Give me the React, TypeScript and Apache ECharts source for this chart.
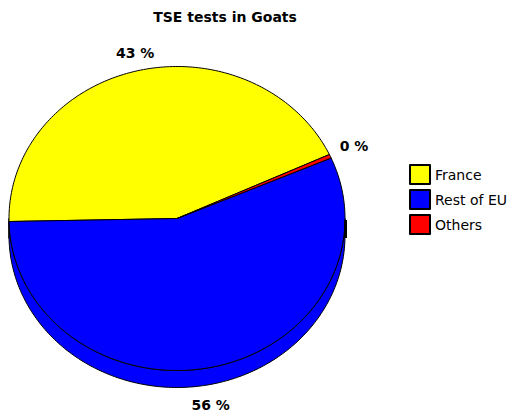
import React, { useEffect, useRef } from "react";
import * as echarts from "echarts";

const title = "TSE tests in Goats";
const categories = ["France", "Rest of EU", "Others"];
const values = [43.4, 56.2, 0.4];
const colors = ["#FFFF00", "#0000FF", "#FF0000"];

const CX = 177;
const CY = 218.5;
const RX = 168;
const RY = 152;
const DEPTH = 17;
const START = 24.9; // degrees, counter-clockwise from east
const LABEL_OFF = 18;

const total = values.reduce((a, b) => a + b, 0);

function sliceRange(i: number): [number, number] {
  let before = 0;
  for (let k = 0; k < i; k++) before += values[k];
  const a1 = START + (before / total) * 360;
  const a2 = a1 + (values[i] / total) * 360;
  return [a1, a2];
}

function pt(aDeg: number, dy = 0): number[] {
  const a = (aDeg * Math.PI) / 180;
  return [CX + RX * Math.cos(a), CY - RY * Math.sin(a) + dy];
}

function arcPoints(a1: number, a2: number, dy = 0): number[][] {
  const pts: number[][] = [];
  const n = Math.max(2, Math.ceil(Math.abs(a2 - a1)));
  for (let s = 0; s <= n; s++) pts.push(pt(a1 + ((a2 - a1) * s) / n, dy));
  return pts;
}

export default function App() {
  const ref = useRef<HTMLDivElement>(null);
  useEffect(() => {
    if (!ref.current) return;
    const chart = echarts.init(ref.current, null, { renderer: "svg" });
    const data = values.map((v) => [v]);
    chart.setOption({
      animation: false,
      backgroundColor: "#FFFFFF",
      title: {
        text: title,
        left: 220,
        top: 5,
        textAlign: "center",
        textStyle: { fontFamily: "DejaVu Sans", fontSize: 14, fontWeight: "bold", color: "#000" },
      },
      legend: {
        orient: "vertical",
        left: 404,
        top: 159,
        itemWidth: 20,
        itemHeight: 19,
        itemGap: 4,
        icon: "rect",
        data: categories,
        itemStyle: { borderColor: "#000", borderWidth: 2 },
        textStyle: { fontFamily: "DejaVu Sans", fontSize: 14, color: "#000" },
      },
      graphic: [
        {
          type: "rect",
          shape: { x: 344, y: 220, width: 3, height: 18 },
          style: { fill: "#000" },
          z: 10,
        },
      ],
      series: [
        {
          type: "pie",
          center: [-500, -500],
          radius: 1,
          silent: true,
          label: { show: false },
          data: categories.map((c, i) => ({ name: c, value: values[i], itemStyle: { color: colors[i] } })),
        },
        {
          type: "custom",
          coordinateSystem: "none",
          silent: true,
          z: 1,
          data,
          renderItem: (params: any, api: any) => {
            const i = params.dataIndex;
            const [a1, a2] = sliceRange(i);
            const children: any[] = [];
            const windows = [
              [180, 360],
              [540, 720],
            ];
            for (const [w1, w2] of windows) {
              const b1 = Math.max(a1, w1);
              const b2 = Math.min(a2, w2);
              if (b2 > b1) {
                const top = arcPoints(b1, b2, 0);
                const bot = arcPoints(b2, b1, DEPTH);
                children.push({
                  type: "polygon",
                  shape: { points: top.concat(bot) },
                  style: { fill: colors[i], stroke: "#000", lineWidth: 1 },
                });
              }
            }
            return { type: "group", children };
          },
        },
        {
          type: "custom",
          coordinateSystem: "none",
          silent: true,
          z: 2,
          data,
          renderItem: (params: any, api: any) => {
            const i = params.dataIndex;
            const v = api.value(0);
            const [a1, a2] = sliceRange(i);
            const pts = [[CX, CY]].concat(arcPoints(a1, a2, 0));
            const mid = ((a1 + a2) / 2) * (Math.PI / 180);
            const s = Math.sin(mid);
            const c = Math.cos(mid);
            const lx = CX + (RX + LABEL_OFF) * c + (c > 0.5 ? 8 * c : 0) - (s < 0 ? 6 : 0);
            const ly = CY - (RY + LABEL_OFF) * s + (s < 0 ? DEPTH + 3 : 0) - (c > 0.5 && s > 0 ? 3 : 0);
            return {
              type: "group",
              children: [
                {
                  type: "polygon",
                  shape: { points: pts },
                  style: { fill: colors[i], stroke: "#000", lineWidth: 1 },
                },
                {
                  type: "text",
                  x: lx,
                  y: ly,
                  style: {
                    text: Math.round((v / total) * 100) + " %",
                    fill: "#000",
                    font: "bold 14px 'DejaVu Sans'",
                    align: "center",
                    verticalAlign: "middle",
                  },
                },
              ],
            };
          },
        },
      ],
    });
    return () => chart.dispose();
  }, []);
  return (
    <div
      ref={ref}
      style={{ position: "fixed", left: 0, top: 0, width: 521, height: 419, background: "#fff" }}
    />
  );
}
